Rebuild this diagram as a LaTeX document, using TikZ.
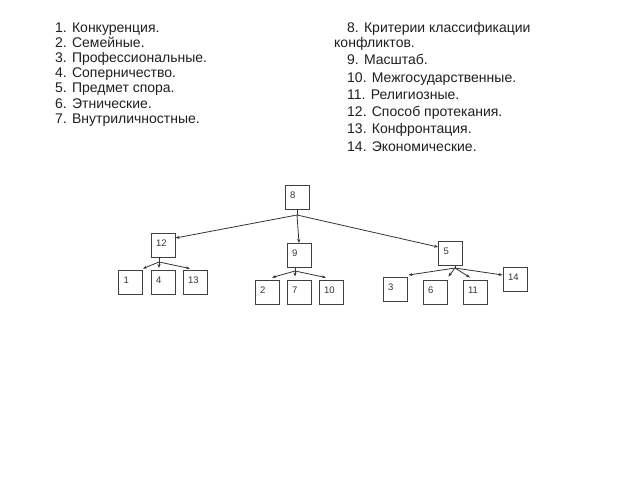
\documentclass[tikz,border=0pt]{standalone}
\usepackage{fontspec}
\setmainfont{Liberation Sans}
\usetikzlibrary{arrows.meta}
\begin{document}
\begin{tikzpicture}[x=1pt,y=-1pt,
  box/.style={draw=black!75, line width=0.9pt, minimum width=24pt, minimum height=24pt, inner sep=0pt,
    font=\fontsize{9.5}{10}\selectfont, text=black!80, text height=6.8pt, text depth=4pt},
  lefttxt/.style={anchor=base west, inner sep=0pt, font=\fontsize{14}{15}\selectfont, text=black!88},
  righttxt/.style={anchor=base west, inner sep=0pt, font=\fontsize{14}{15}\selectfont, text=black!88},
  link/.style={draw=black!80, line width=0.8pt},
  arr/.style={link, -{Stealth[length=4pt,width=3pt]}}]
\useasboundingbox (0,0) rectangle (640,480);
% left column
\node[lefttxt] (l1) at (55,32) {1. Конкуренция.};
\node[lefttxt] (l2) at (55,47.2) {2. Семейные.};
\node[lefttxt] (l3) at (55,62.4) {3. Профессиональные.};
\node[lefttxt] (l4) at (55,77.6) {4. Соперничество.};
\node[lefttxt] (l5) at (55,92.8) {5. Предмет спора.};
\node[lefttxt] (l6) at (55,108) {6. Этнические.};
\node[lefttxt] (l7) at (55,123.2) {7. Внутриличностные.};
% right column
\node[righttxt] (r8) at (347,32) {8. Критерии классификации};
\node[righttxt] (r8b) at (334,47.5) {конфликтов.};
\node[righttxt] (r9) at (347,64.5) {9. Масштаб.};
\node[righttxt] (r10) at (347,82) {10. Межгосударственные.};
\node[righttxt] (r11) at (347,99) {11. Религиозные.};
\node[righttxt] (r12) at (347,116.5) {12. Способ протекания.};
\node[righttxt] (r13) at (347,133.5) {13. Конфронтация.};
\node[righttxt] (r14) at (347,151.5) {14. Экономические.};
% boxes
\newcommand{\lbl}[1]{\makebox[14pt][l]{#1}}
\node[box] (n8) at (297,197) {\lbl{8}};
\node[box] (n12) at (163,245) {\lbl{12}};
\node[box] (n9) at (299,255.5) {\lbl{9}};
\node[box] (n5) at (450.5,253) {\lbl{5}};
\node[box] (n1) at (130.5,282) {\lbl{1}};
\node[box] (n4) at (163,282) {\lbl{4}};
\node[box] (n13) at (195,282) {\lbl{13}};
\node[box] (n2) at (267,292) {\lbl{2}};
\node[box] (n7) at (299,292) {\lbl{7}};
\node[box] (n10) at (331,292) {\lbl{10}};
\node[box] (n3) at (395,289.5) {\lbl{3}};
\node[box] (n6) at (435,292) {\lbl{6}};
\node[box] (n11) at (475,292) {\lbl{11}};
\node[box] (n14) at (515,279) {\lbl{14}};
% branch points
\coordinate (b8) at (297,215);
\coordinate (b12) at (159,262);
\coordinate (b9) at (295,271);
\coordinate (b5) at (455,268);
% connectors
\draw[link] (n8.south) -- (b8);
\draw[arr] (b8) -- ([yshift=7pt]n12.east);
\draw[arr] (b8) -- (n9.north);
\draw[arr] (b8) -- ([yshift=6pt]n5.west);
\draw[link] ([xshift=-4pt]n12.south) -- (b12);
\draw[arr] (b12) -- ([yshift=1pt]n1.north east);
\draw[arr] (b12) -- ([xshift=-4pt,yshift=1.5pt]n4.north);
\draw[arr] (b12) -- ([xshift=-5pt,yshift=1pt]n13.north);
\draw[link] ([xshift=-4pt]n9.south) -- (b9);
\draw[arr] (b9) -- ([xshift=5pt,yshift=2pt]n2.north);
\draw[arr] (b9) -- ([xshift=-4pt,yshift=3pt]n7.north);
\draw[arr] (b9) -- ([xshift=-5pt,yshift=2pt]n10.north);
\draw[link] ([xshift=4.5pt]n5.south) -- (b5);
\draw[arr] (b5) -- ([xshift=1pt,yshift=2pt]n3.north east);
\draw[arr] (b5) -- ([xshift=1pt,yshift=3pt]n6.north east);
\draw[arr] (b5) -- ([xshift=-5pt,yshift=2pt]n11.north);
\draw[arr] (b5) -- ([yshift=4pt]n14.west);
\end{tikzpicture}
\end{document}
